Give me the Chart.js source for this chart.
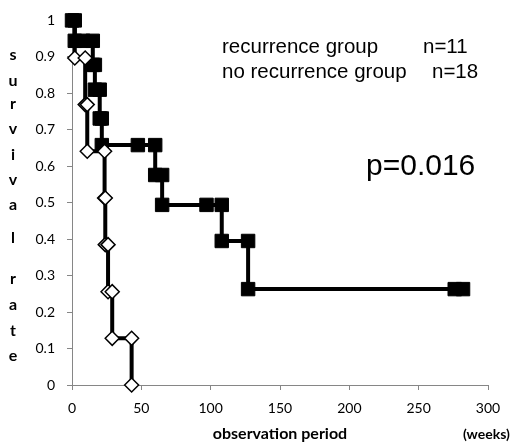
<!DOCTYPE html>
<html>
<head>
<meta charset="utf-8">
<script src="https://cdn.jsdelivr.net/npm/chart.js@4"></script>
<style>
  html, body { margin: 0; padding: 0; background: #fff; }
</style>
</head>
<body>
<canvas id="km" width="515" height="446"></canvas>
<script>
// Kaplan-Meier steps, corner points (weeks, survival)
// recurrence group, n=11 (open diamonds)
const recurWeeks = [0, 2, 2, 9.5, 9.5, 11, 11, 23.5, 23.5, 24, 24, 26, 26, 29, 29, 43, 43];
const recurSurv  = [1, 1, 0.897, 0.897, 0.769, 0.769, 0.641, 0.641, 0.513, 0.513, 0.385, 0.385, 0.256, 0.256, 0.128, 0.128, 0];

// no recurrence group, n=18 (filled squares)
const noRecurWeeks = [0, 2, 2, 8, 15, 15, 16.5, 16.5, 20, 20, 21.5, 21.5, 47.5, 60, 60, 65, 65, 97, 108, 108, 127, 127, 276, 282];
const noRecurSurv  = [1, 1, 0.944, 0.944, 0.944, 0.878, 0.878, 0.81, 0.81, 0.731, 0.731, 0.658, 0.658, 0.658, 0.576, 0.576, 0.494, 0.494, 0.494, 0.395, 0.395, 0.263, 0.263, 0.263];

const xTicks = [0, 50, 100, 150, 200, 250, 300];
const yTickLabels = ['0', '0.1', '0.2', '0.3', '0.4', '0.5', '0.6', '0.7', '0.8', '0.9', '1'];

const legendRows = [['recurrence group', 'n=11'], ['no recurrence group', 'n=18']];
const pValueText = 'p=0.016';
const yTitleLetters = ['s', 'u', 'r', 'v', 'i', 'v', 'a', 'l', 'r', 'a', 't', 'e'];

function toPoints(xs, ys) { return xs.map((x, i) => ({ x: x, y: ys[i] })); }

const AXIS_GRAY = '#868686';
const tickFont = { family: 'Lato', size: 14 };

// extra texts: stacked y title, group labels, p value, unit
const annotations = {
  id: 'annotations',
  afterDraw(chart) {
    const ctx = chart.ctx;
    ctx.save();
    ctx.fillStyle = '#000';

    // vertical y title, one letter per line
    ctx.font = 'bold 16px Lato';
    ctx.textAlign = 'center';
    ctx.textBaseline = 'middle';
    const letterY = [55, 81, 104, 129, 155, 180, 205, 238, 279, 305, 331, 356];
    yTitleLetters.forEach((ch, i) => ctx.fillText(ch, 13, letterY[i]));

    // group labels
    ctx.font = '20.5px "Liberation Sans"';
    ctx.textAlign = 'left';
    ctx.textBaseline = 'alphabetic';
    ctx.fillText(legendRows[0][0], 222, 53);
    ctx.fillText(legendRows[0][1], 423, 53);
    ctx.fillText(legendRows[1][0], 222, 78);
    ctx.fillText(legendRows[1][1], 432, 78);

    // p value
    ctx.font = '30px "Liberation Sans"';
    ctx.fillText(pValueText, 366, 175);

    // unit
    ctx.font = 'bold 14px Lato';
    ctx.textBaseline = 'middle';
    ctx.fillText('(weeks)', 463, 434);
    ctx.restore();
  }
};

// no diamond where the curve still sits at 1 (hidden under the squares)
const recurRadius = recurSurv.map(v => (v === 1 ? 0 : 7));

new Chart(document.getElementById('km'), {
  type: 'scatter',
  data: {
    datasets: [
      {
        label: 'recurrence group',
        data: toPoints(recurWeeks, recurSurv),
        showLine: true,
        borderColor: '#000',
        borderWidth: 4,
        pointStyle: 'rectRot',
        pointRadius: recurRadius,
        pointBorderWidth: 1.5,
        pointBackgroundColor: '#fff',
        pointBorderColor: '#000',
        clip: false
      },
      {
        label: 'no recurrence group',
        data: toPoints(noRecurWeeks, noRecurSurv),
        showLine: true,
        borderColor: '#000',
        borderWidth: 4,
        pointStyle: 'rect',
        pointRadius: 9.5,
        pointBorderWidth: 1,
        pointBackgroundColor: '#000',
        pointBorderColor: '#000',
        clip: false
      }
    ]
  },
  options: {
    responsive: false,
    animation: false,
    layout: { padding: { left: 2, top: 17, right: 27, bottom: 0 } },
    plugins: {
      legend: { display: false },
      tooltip: { enabled: false }
    },
    scales: {
      x: {
        type: 'linear',
        min: 0,
        max: 300,
        afterFit: (scale) => { scale.height = 61; },
        afterBuildTicks: (scale) => { scale.ticks = xTicks.map(v => ({ value: v })); },
        ticks: { color: '#000', font: tickFont, padding: 10, maxRotation: 0 },
        grid: { drawOnChartArea: false, drawTicks: true, tickLength: 5, color: AXIS_GRAY },
        border: { color: AXIS_GRAY, width: 1 },
        title: {
          display: true,
          text: 'observation period',
          color: '#000',
          font: { family: 'Lato', size: 16, weight: 'bold' },
          padding: { top: 0, bottom: 3 }
        }
      },
      y: {
        type: 'linear',
        min: 0,
        max: 1,
        afterFit: (scale) => { scale.width = 70; },
        ticks: {
          stepSize: 0.1,
          color: '#000',
          font: tickFont,
          padding: 12,
          callback: (v) => yTickLabels[Math.round(v * 10)]
        },
        grid: { drawOnChartArea: false, drawTicks: true, tickLength: 5, color: AXIS_GRAY },
        border: { color: AXIS_GRAY, width: 1 }
      }
    }
  },
  plugins: [annotations]
});
</script>
</body>
</html>
